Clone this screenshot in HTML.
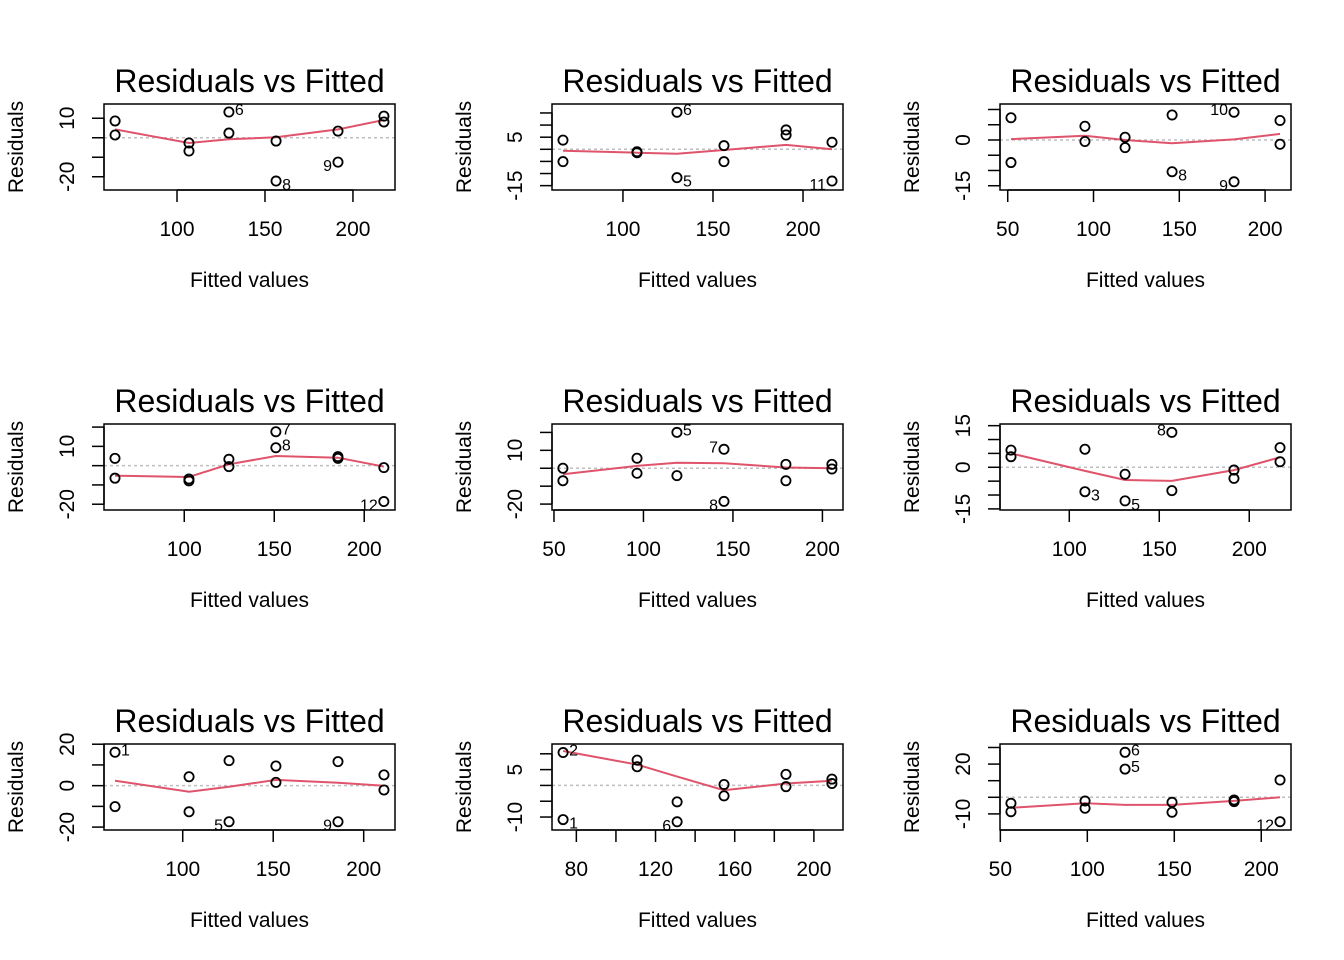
<!DOCTYPE html>
<html><head><meta charset="utf-8">
<style>
html,body{margin:0;padding:0;background:#fff;}
svg{display:block;font-family:"Liberation Sans",Arial,sans-serif;}
</style></head>
<body>
<svg id="chart" width="1344" height="960" viewBox="0 0 1344 960" xmlns="http://www.w3.org/2000/svg">
<rect x="0" y="0" width="1344" height="960" fill="#fff"/>
</svg>
<script>
const panelFitted = [
 [64.8,64.8,106.8,106.8,129.5,129.5,156.3,156.3,191.5,191.5,217.6,217.6],
 [66.7,66.7,107.8,107.8,130,130,156.1,156.1,190.6,190.6,216.1,216.1],
 [51.9,51.9,95,95,118.4,118.4,145.8,145.8,181.9,181.9,208.7,208.7],
 [61.5,61.5,102.6,102.6,124.8,124.8,150.9,150.9,185.4,185.4,210.9,210.9],
 [55,55,96.4,96.4,118.7,118.7,145,145,179.6,179.6,205.3,205.3],
 [67.6,67.6,108.7,108.7,131,131,157,157,191.5,191.5,217.1,217.1],
 [62.6,62.6,103.5,103.5,125.6,125.6,151.5,151.5,185.8,185.8,211.2,211.2],
 [73.3,73.3,110.7,110.7,130.9,130.9,154.6,154.6,185.9,185.9,209.1,209.1],
 [56.1,56.1,98.7,98.7,121.7,121.7,148.7,148.7,184.4,184.4,210.8,210.8]
];
const panelResid = [
 [8.6,1.4,-2.7,-6.8,13.2,2.4,-1.7,-22.2,3.4,-12.5,11.1,8.1],
 [3.8,-5.1,-1.0,-1.4,15.3,-11.7,1.5,-5.1,8.0,5.9,2.9,-13.1],
 [7.3,-7.4,4.5,-0.5,0.9,-2.5,8.2,-10.4,9.1,-13.7,6.4,-1.4],
 [3.8,-6.5,-6.9,-7.9,3.3,-0.5,17.6,9.3,4.7,3.8,-1.0,-18.6],
 [0,-7.0,5.6,-2.8,20,-4.1,10.6,-18.5,2.2,-7.0,2.2,-0.4],
 [6.2,3.8,6.5,-8.8,-2.5,-12.1,12.6,-8.4,-1.0,-4.0,7.1,2.0],
 [16.1,-10.1,4.3,-12.6,12.1,-17.4,9.5,1.6,11.6,-17.4,5.2,-2.1],
 [10.4,-10.8,8.0,5.9,-5.2,-11.5,0.3,-3.3,3.5,-0.4,2.0,0.6],
 [-3.6,-8.7,-2.2,-6.6,27.1,17.0,-3.0,-9.0,-1.6,-2.6,10.4,-14.7]
];
const panelSmooth = [
 [4.3,-2.7,-0.8,0.2,4.3,9.1],
 [-0.6,-1.4,-1.8,-0.3,1.8,0],
 [0.3,1.4,0,-1.1,0.2,2.0],
 [-5.2,-5.9,0.7,5.0,4.1,-0.5],
 [-3.3,1.3,3.1,2.8,0.4,0],
 [5.0,-1.3,-4.6,-4.9,-1.0,3.6],
 [2.4,-2.9,-0.5,2.8,1.4,0],
 [10.9,6.6,2.8,-1.5,0.6,1.5],
 [-6.3,-3.6,-4.6,-4.6,-2.2,0]
];
const panelIdIndex = [[4,7,9],[4,5,11],[7,8,9],[6,7,11],[4,6,7],[3,5,6],[0,5,9],[0,1,5],[4,5,11]];
const panelIdText = [["6","8","9"],["6","5","11"],["8","10","9"],["7","8","12"],["5","7","8"],["3","5","8"],["1","5","9"],["2","1","6"],["6","5","12"]];
const panelIdSide = [["r","r","l"],["r","r","l"],["r","l","l"],["r","r","l"],["r","l","l"],["r","r","l"],["r","l","l"],["r","r","l"],["r","r","l"]];
const panelXlim = [[58.5,223.9],[60.6,222.2],[45.5,215.1],[55.4,217.1],[48.9,211.5],[61.5,223.2],[56.5,217.3],[67.7,214.7],[49.8,217.1]];
const panelYlim = [[-26.8,17.3],[-16.8,18.7],[-16.4,11.8],[-23.0,21.6],[-23.3,24.7],[-15.4,15.6],[-21.4,20.1],[-14.1,13.1],[-19.7,32.1]];
const panelXTicks = [[100,150,200],[100,150,200],[50,100,150,200],[100,150,200],[50,100,150,200],[100,150,200],[100,150,200],[80,100,120,140,160,180,200],[50,100,150,200]];
const panelXTickLabels = [["100","150","200"],["100","150","200"],["50","100","150","200"],["100","150","200"],["50","100","150","200"],["100","150","200"],["100","150","200"],["80","","120","","160","","200"],["50","100","150","200"]];
const panelYTicks = [[-20,-10,0,10],[-15,-10,-5,0,5,10,15],[-15,-10,-5,0,5,10],[-20,-10,0,10,20],[-20,-10,0,10,20],[-15,-10,-5,0,5,10,15],[-20,-10,0,10,20],[-10,-5,0,5,10],[-10,0,10,20,30]];
const panelYTickLabels = [["-20","","","10"],["-15","","","","5","",""],["-15","","","0","",""],["-20","","","10",""],["-20","","","10",""],["-15","","","0","","","15"],["-20","","0","","20"],["-10","","","5",""],["-10","","","20",""]];

const NS = "http://www.w3.org/2000/svg";
const svg = document.getElementById('chart');
function mk(tag, attrs, parent){
  const e = document.createElementNS(NS, tag);
  for (const k in attrs) e.setAttribute(k, attrs[k]);
  parent.appendChild(e);
  return e;
}
const BOX_L = 104, BOX_R = 395, BOX_T = 104, BOX_B = 190;
for (let p = 0; p < 9; p++) {
  const col = p % 3, row = Math.floor(p / 3);
  const ox = col * 448, oy = row * 320;
  const L = BOX_L + ox, R = BOX_R + ox, T = BOX_T + oy, B = BOX_B + oy;
  const xl = panelXlim[p], yl = panelYlim[p];
  const sx = v => L + (v - xl[0]) / (xl[1] - xl[0]) * (R - L);
  const sy = v => B - (v - yl[0]) / (yl[1] - yl[0]) * (B - T);
  const g = mk('g', {}, svg);
  
  

  const title = mk('text', {x:(L+R)/2, y:92+oy, 'font-size':32, 'text-anchor':'middle', fill:'#000'}, g);
  title.textContent = 'Residuals vs Fitted';
  
  

  const yt = mk('text', {x:0, y:0, 'font-size':21, 'text-anchor':'middle', transform:`translate(${23+ox},${(T+B)/2}) rotate(-90)`}, g);
  yt.textContent = 'Residuals';
  
  

  const xt = mk('text', {x:(L+R)/2, y:287+oy, 'font-size':21, 'text-anchor':'middle'}, g);
  xt.textContent = 'Fitted values';
  
  

  const zl = mk('line', {x1:L, x2:R, y1:sy(0), y2:sy(0), stroke:'#BEBEBE', 'stroke-width':1.5, 'stroke-dasharray':'3,3'}, g);
  
  

  const xa = mk('g', {}, g);
  
  
  const xt0 = panelXTicks[p];
  mk('line', {x1:sx(xt0[0]), x2:sx(xt0[xt0.length-1]), y1:B, y2:B, stroke:'#000', 'stroke-width':1.5}, xa);
  xt0.forEach((v, i) => {
    mk('line', {x1:sx(v), x2:sx(v), y1:B, y2:B+12, stroke:'#000', 'stroke-width':1.5}, xa);
    const lab = panelXTickLabels[p][i];
    if (lab) {
      const t = mk('text', {x:sx(v), y:B+46, 'font-size':21, 'text-anchor':'middle'}, xa);
      t.textContent = lab;
      
      
    }
  });
  const ya = mk('g', {}, g);
  
  
  const yt0 = panelYTicks[p];
  mk('line', {x1:L, x2:L, y1:sy(yt0[0]), y2:sy(yt0[yt0.length-1]), stroke:'#000', 'stroke-width':1.5}, ya);
  yt0.forEach((v, i) => {
    mk('line', {x1:L, x2:L-12, y1:sy(v), y2:sy(v), stroke:'#000', 'stroke-width':1.5}, ya);
    const lab = panelYTickLabels[p][i];
    if (lab) {
      const t = mk('text', {x:0, y:0, 'font-size':21, 'text-anchor':'middle', transform:`translate(${L-30},${sy(v)}) rotate(-90)`}, ya);
      t.textContent = lab;
      
      
    }
  });
  const box = mk('rect', {x:L, y:T, width:R-L, height:B-T, fill:'none', stroke:'#000', 'stroke-width':1.5}, g);
  
  

  const fx = panelFitted[p].filter((v, i) => i % 2 === 0);
  const sm = panelSmooth[p];
  const d = fx.map((v, i) => (i ? 'L' : 'M') + sx(v).toFixed(1) + ',' + sy(sm[i]).toFixed(1)).join(' ');
  const sl = mk('path', {d:d, fill:'none', stroke:'#DF536B', 'stroke-width':2}, g);
  
  

  panelFitted[p].forEach((v, i) => {
    const c = mk('circle', {cx:sx(v), cy:sy(panelResid[p][i]), r:4.6, fill:'none', stroke:'#000', 'stroke-width':1.8}, g);
    
    
  });
  panelIdIndex[p].forEach((idx, k) => {
    const px = sx(panelFitted[p][idx]), r = panelResid[p][idx], py = sy(r);
    const right = panelIdSide[p][k] === 'r';
    const t = mk('text', {x: right ? px + 6 : px - 6, y: py + (r >= 0 ? 3 : 9), 'font-size':16, 'text-anchor': right ? 'start' : 'end'}, g);
    t.textContent = panelIdText[p][k];
    
    
  });
}
</script>
</body></html>
